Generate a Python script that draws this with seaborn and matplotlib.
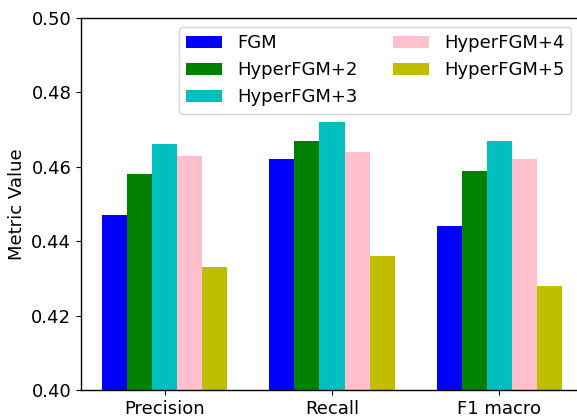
import matplotlib
matplotlib.use("Agg")
import matplotlib.pyplot as plt
import seaborn as sns
import pandas as pd
import numpy as np

# values
metrics = ["Precision", "Recall", "F1 macro"]
methods = ["FGM", "HyperFGM+2", "HyperFGM+3", "HyperFGM+4", "HyperFGM+5"]
fgm = [0.447, 0.462, 0.444]
hyper2 = [0.458, 0.467, 0.459]
hyper3 = [0.466, 0.472, 0.467]
hyper4 = [0.463, 0.464, 0.462]
hyper5 = [0.433, 0.436, 0.428]
colors = ["#0000ff", "#008000", "#00bfbf", "#ffc0cb", "#bfbf00"]

rows = []
for name, vals in zip(methods, [fgm, hyper2, hyper3, hyper4, hyper5]):
    for m, v in zip(metrics, vals):
        rows.append({"Metric": m, "Method": name, "Value": v})
df = pd.DataFrame(rows)

sns.set_style("ticks", {"text.color": "black", "axes.labelcolor": "black",
                        "xtick.color": "black", "ytick.color": "black",
                        "axes.edgecolor": "black"})
plt.rcParams["font.family"] = ["DejaVu Sans"]

fig = plt.figure(figsize=(5.77, 4.18), dpi=100)
ax = fig.add_axes([81 / 577, 1 - 390 / 418, 502 / 577, 372 / 418])

sns.barplot(data=df, x="Metric", y="Value", hue="Method", palette=colors,
            width=0.75, saturation=1, linewidth=0, ax=ax)

ax.set_ylim(0.40, 0.50)
ax.set_yticks(np.arange(0.40, 0.501, 0.02))
ax.set_yticklabels([f"{t:.2f}" for t in np.arange(0.40, 0.501, 0.02)])
ax.set_xlabel("")
ax.set_ylabel("Metric Value", fontsize=13, color="black")
ax.tick_params(labelsize=13, colors="black", length=3.5, width=0.8, pad=3.5)
for s in ax.spines.values():
    s.set_color("black")
    s.set_linewidth(1.0)

leg = ax.legend(ncol=2, loc="upper right", fontsize=13, frameon=True, title=None,
                bbox_to_anchor=(0.995, 1.0))
for t in leg.get_texts():
    t.set_color("black")

fig.savefig("out.png", dpi=100)
